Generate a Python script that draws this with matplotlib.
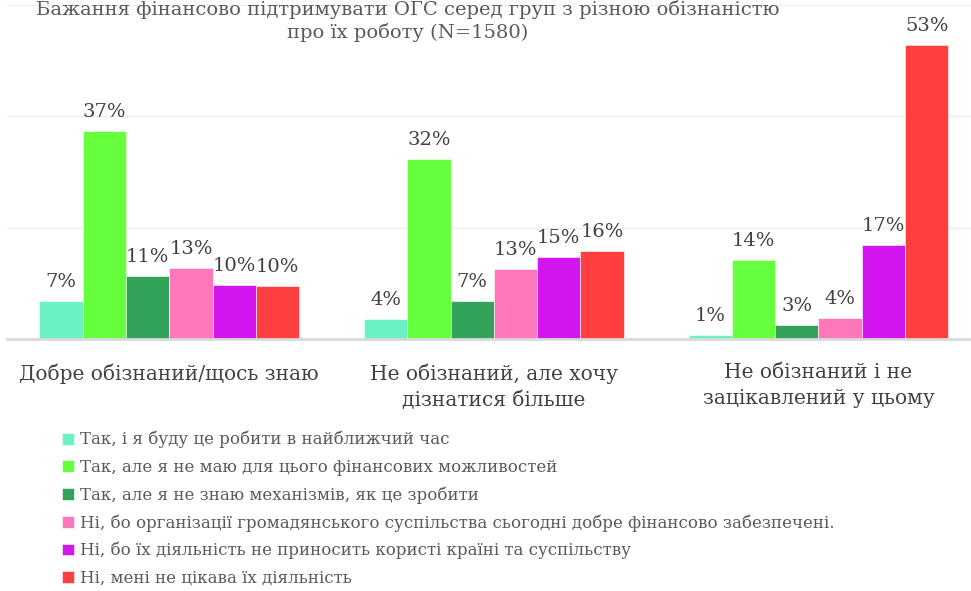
import numpy as np
import matplotlib.pyplot as plt

plt.rcParams['font.family'] = ['DejaVu Serif']

groups = ['Добре обізнаний/щось знаю', 'Не обізнаний, але хочу\nдізнатися більше',
          'Не обізнаний і не\nзацікавлений у цьому']
answers = ['Так, і я буду це робити в найближчий час',
           'Так, але я не маю для цього фінансових можливостей',
           'Так, але я не знаю механізмів, як це зробити',
           'Ні, бо організації громадянського суспільства сьогодні добре фінансово забезпечені.',
           'Ні, бо їх діяльність не приносить користі країні та суспільству',
           'Ні, мені не цікава їх діяльність']
values = [
    [6.8, 37.3, 11.3, 12.7, 9.7, 9.6],
    [3.6, 32.3, 6.8, 12.6, 14.7, 15.8],
    [0.7, 14.2, 2.6, 3.8, 16.9, 52.8],
]
colors = ['#6cf2c2', '#66ff3d', '#33a35a', '#ff77bb', '#d316f0', '#ff3f3f']

vals = np.array(values)
fig = plt.figure(figsize=(9.71, 5.91), dpi=100)
ax = fig.add_axes([7 / 971, (591 - 339) / 591, 964 / 971, 334 / 591])

x = np.arange(len(groups))
w = 0.8 / len(answers)
for j, name in enumerate(answers):
    pos = x - 0.4 + w * (j + 0.5)
    bars = ax.bar(pos, vals[:, j], w, color=colors[j], label=name,
                  edgecolor='white', linewidth=0.4)
    for b, v in zip(bars, vals[:, j]):
        ax.text(b.get_x() + b.get_width() / 2, v + 1.8, f'{v:.0f}%',
                ha='center', va='bottom', fontsize=14, color='#404040')

ax.set_xlim(-0.5, 2.47)
ax.set_ylim(0, 60)
ax.set_yticks([0, 20, 40, 60])
ax.yaxis.grid(True, color='#efefef', linewidth=1)
ax.set_axisbelow(True)
ax.tick_params(left=False, labelleft=False, bottom=False)
ax.set_xticks(x)
ax.set_xticklabels(groups, fontsize=14.5, color='#404040', va='top', linespacing=1.45)
ax.tick_params(axis='x', pad=14)
for s in ['top', 'right', 'left']:
    ax.spines[s].set_visible(False)
ax.spines['bottom'].set_color('#d9d9d9')
ax.spines['bottom'].set_linewidth(2)

fig.text(0.42, 1 - 21 / 591, 'Бажання фінансово підтримувати ОГС серед груп з різною обізнаністю\nпро їх роботу (N=1580)',
         ha='center', va='center', fontsize=14, color='#595959', linespacing=1.3)

fig.legend(loc='upper left', bbox_to_anchor=(62 / 971, 1 - 431 / 591), frameon=False,
           fontsize=12, handlelength=0.7, handleheight=0.7, handletextpad=0.35,
           labelspacing=0.62, labelcolor='#595959', borderaxespad=0, borderpad=0)

fig.savefig('out.png', dpi=100)
